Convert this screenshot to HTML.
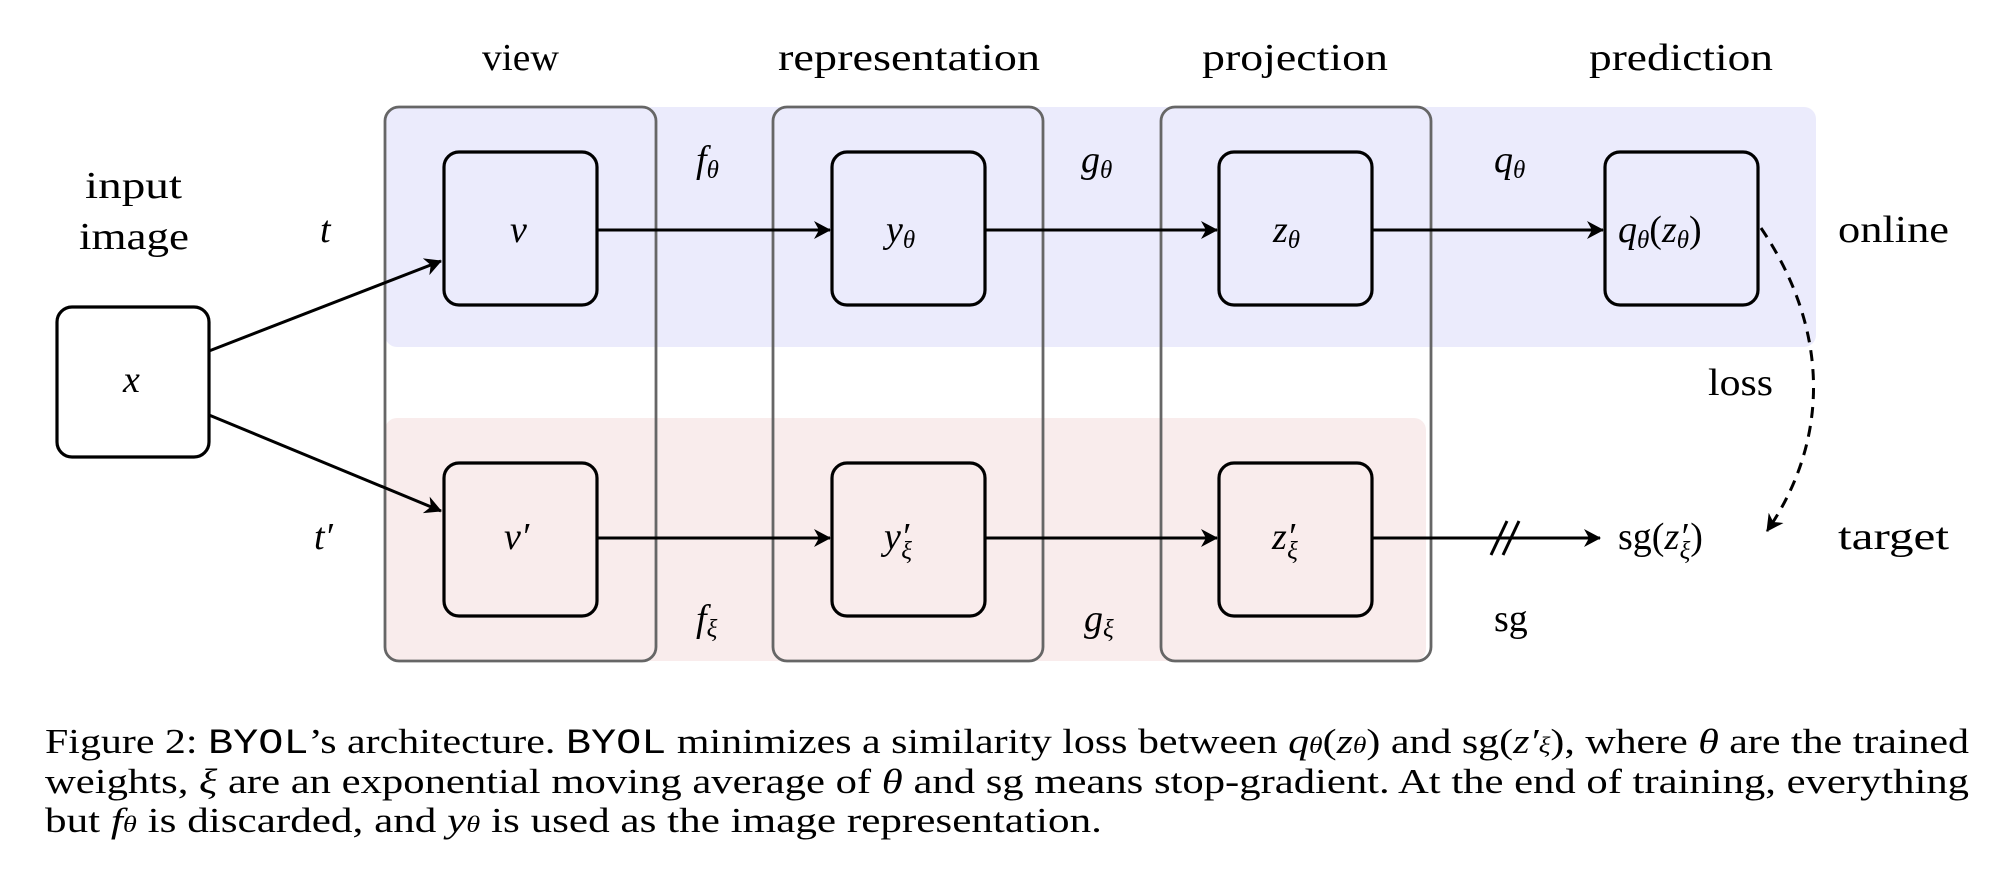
<!DOCTYPE html>
<html><head><meta charset="utf-8"><style>
html,body{margin:0;padding:0;background:#fff}
svg{display:block}
text{font-family:"Liberation Serif","DejaVu Serif",serif;fill:#000}
.m{font-style:italic}
</style></head><body>
<svg width="2000" height="896" viewBox="0 0 2000 896" xmlns="http://www.w3.org/2000/svg">
<defs>
<marker id="ah" markerWidth="20" markerHeight="18" refX="16" refY="9" orient="auto" markerUnits="userSpaceOnUse">
<path d="M0,0 L17,9 L0,18 L5,9 Z" fill="#000"/>
</marker>
</defs>
<rect x="385" y="107" width="1431" height="240" rx="12" fill="#ebebfc"/>
<rect x="385" y="418" width="1041" height="243" rx="12" fill="#f9ecec"/>
<g fill="none" stroke="#666" stroke-width="2.8">
<rect x="385" y="107" width="271" height="554" rx="14"/>
<rect x="773" y="107" width="270" height="554" rx="14"/>
<rect x="1161" y="107" width="270" height="554" rx="14"/>
</g>
<g fill="none" stroke="#000" stroke-width="3.2">
<rect x="57" y="307" width="152" height="150" rx="15" fill="#fff"/>
<rect x="444" y="152" width="153" height="153" rx="15"/>
<rect x="832" y="152" width="153" height="153" rx="15"/>
<rect x="1219" y="152" width="153" height="153" rx="15"/>
<rect x="1605" y="152" width="153" height="153" rx="15"/>
<rect x="444" y="463" width="153" height="153" rx="15"/>
<rect x="832" y="463" width="153" height="153" rx="15"/>
<rect x="1219" y="463" width="153" height="153" rx="15"/>
</g>
<g stroke="#000" stroke-width="3" fill="none" marker-end="url(#ah)">
<line x1="209" y1="351" x2="441" y2="261"/>
<line x1="209" y1="415" x2="441" y2="511"/>
<line x1="597" y1="230" x2="830" y2="230"/>
<line x1="985" y1="230" x2="1217" y2="230"/>
<line x1="1372" y1="230" x2="1603" y2="230"/>
<line x1="597" y1="538" x2="830" y2="538"/>
<line x1="985" y1="538" x2="1217" y2="538"/>
<line x1="1372" y1="538" x2="1600" y2="538"/>
<path d="M1761,228 C1830,330 1830,440 1767,531" stroke-dasharray="11,8"/>
</g>
<line x1="1491" y1="555" x2="1507" y2="521" stroke="#000" stroke-width="3"/>
<line x1="1503" y1="555" x2="1519" y2="521" stroke="#000" stroke-width="3"/>
<g font-size="38">
<text x="482" y="70" textLength="77" lengthAdjust="spacingAndGlyphs">view</text>
<text x="778" y="70" textLength="262" lengthAdjust="spacingAndGlyphs">representation</text>
<text x="1202" y="70" textLength="186" lengthAdjust="spacingAndGlyphs">projection</text>
<text x="1589" y="70" textLength="184" lengthAdjust="spacingAndGlyphs">prediction</text>
<text x="85" y="198" textLength="97" lengthAdjust="spacingAndGlyphs">input</text>
<text x="79" y="249" textLength="110" lengthAdjust="spacingAndGlyphs">image</text>
<text x="1838" y="242" textLength="111" lengthAdjust="spacingAndGlyphs">online</text>
<text x="1838" y="549" textLength="111" lengthAdjust="spacingAndGlyphs">target</text>
<text x="1708" y="395" textLength="65" lengthAdjust="spacingAndGlyphs">loss</text>
<text x="1494" y="631">sg</text>
</g>
<g font-size="38">
<text class="m" x="320" y="242">t</text>
<text class="m" x="314" y="549">t′</text>
<text class="m" x="696" y="172">f<tspan font-size="25" dy="6">θ</tspan></text>
<text class="m" x="1081" y="172">g<tspan font-size="25" dy="6">θ</tspan></text>
<text class="m" x="1494" y="172">q<tspan font-size="25" dy="6">θ</tspan></text>
<text class="m" x="696" y="631">f<tspan font-size="25" dy="6">ξ</tspan></text>
<text class="m" x="1084" y="631">g<tspan font-size="25" dy="6">ξ</tspan></text>
<text class="m" x="123" y="392">x</text>
<text class="m" x="510" y="242">v</text>
<text class="m" x="886" y="242">y<tspan font-size="25" dy="6">θ</tspan></text>
<text class="m" x="1273" y="242">z<tspan font-size="25" dy="6">θ</tspan></text>
<text class="m" x="1618" y="242">q<tspan font-size="25" dy="6">θ</tspan><tspan dy="-6" font-style="normal">(</tspan>z<tspan font-size="25" dy="6">θ</tspan><tspan dy="-6" font-style="normal">)</tspan></text>
<text class="m" x="504" y="549">v′</text>
<text class="m" x="884" y="549">y′<tspan font-size="25" dx="-8" dy="10">ξ</tspan></text>
<text class="m" x="1272" y="549">z′<tspan font-size="25" dx="-8" dy="10">ξ</tspan></text>
<text x="1618" y="549"><tspan font-style="normal">sg(</tspan><tspan font-style="italic">z′</tspan><tspan font-style="italic" font-size="25" dx="-8" dy="10">ξ</tspan><tspan dy="-10" font-style="normal">)</tspan></text>
</g>
<g font-size="35">
<text x="45" y="753" textLength="1924" lengthAdjust="spacingAndGlyphs">Figure 2: <tspan font-family="Liberation Mono,monospace">BYOL</tspan>’s architecture. <tspan font-family="Liberation Mono,monospace">BYOL</tspan> minimizes a similarity loss between <tspan font-style="italic">q<tspan font-size="23">θ</tspan></tspan>(<tspan font-style="italic">z<tspan font-size="23">θ</tspan></tspan>) and sg(<tspan font-style="italic">z′<tspan font-size="23">ξ</tspan></tspan>), where <tspan font-style="italic">θ</tspan> are the trained</text>
<text x="45" y="793" textLength="1924" lengthAdjust="spacingAndGlyphs">weights, <tspan font-style="italic">ξ</tspan> are an exponential moving average of <tspan font-style="italic">θ</tspan> and sg means stop-gradient. At the end of training, everything</text>
<text x="45" y="832" textLength="1057" lengthAdjust="spacingAndGlyphs">but <tspan font-style="italic">f<tspan font-size="23">θ</tspan></tspan> is discarded, and <tspan font-style="italic">y<tspan font-size="23">θ</tspan></tspan> is used as the image representation.</text>
</g>
</svg>
</body></html>
